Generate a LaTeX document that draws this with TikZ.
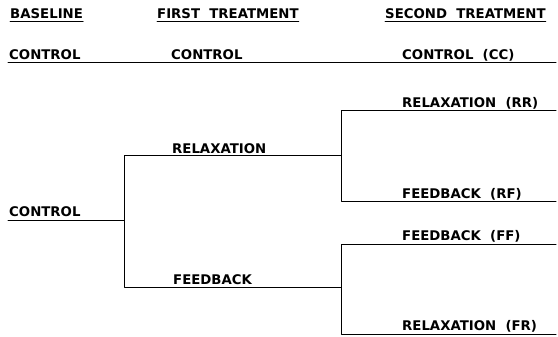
\documentclass[tikz,border=0pt]{standalone}
\usepackage{fontspec}
\setmainfont{DejaVu Sans}[WordSpace=2]
\begin{document}
\begin{tikzpicture}[x=1pt,y=1pt,line cap=round,line join=round,
		lbl/.style={inner sep=0pt,anchor=base west,font=\fontsize{13.3}{15}\selectfont\bfseries},
		rule/.style={line width=1pt}]
	\useasboundingbox (0,0) rectangle (558,337);
	% column heads
	\node[lbl] (hbase) at (10,318.5) {BASELINE};
	\node[lbl] (hfirst) at (157,318.5) {FIRST TREATMENT};
	\node[lbl] (hsecond) at (385,318.5) {SECOND TREATMENT};
	\foreach \h in {hbase,hfirst,hsecond}
		\draw[line width=0.8pt] ([yshift=-2.5pt]\h.south west) -- ([yshift=-2.5pt]\h.south east);
	% control row
	\coordinate (c0) at (8,274);
	\coordinate (c1) at (556,274);
	\node[lbl] (ctl0) at (9,277) {CONTROL};
	\node[lbl] (ctl1) at (171,277) {CONTROL};
	\node[lbl] (ctl2) at (402,277) {CONTROL (CC)};
	\draw[rule] (c0) -- (c1);
	% tree
	\coordinate (b0) at (8,116);
	\coordinate (b1) at (124,116);
	\coordinate (r1) at (124,181);
	\coordinate (f1) at (124,49);
	\coordinate (r2) at (341,181);
	\coordinate (f2) at (341,49);
	\coordinate (rr0) at (341,226);
	\coordinate (rr1) at (556,226);
	\coordinate (rf0) at (341,135);
	\coordinate (rf1) at (556,135);
	\coordinate (ff0) at (341,92);
	\coordinate (ff1) at (556,92);
	\coordinate (fr0) at (341,2);
	\coordinate (fr1) at (556,2);
	\node[lbl] (base) at (9,120) {CONTROL};
	\node[lbl] (rel) at (172,183) {RELAXATION};
	\node[lbl] (fb) at (173,52) {FEEDBACK};
	\node[lbl] (rr) at (402,229) {RELAXATION (RR)};
	\node[lbl] (rf) at (402,138) {FEEDBACK (RF)};
	\node[lbl] (ff) at (402,96) {FEEDBACK (FF)};
	\node[lbl] (fr) at (402,6) {RELAXATION (FR)};
	\draw[rule] (b0) -- (b1);
	\draw[rule] (r2) -- (r1) -- (f1) -- (f2);
	\draw[rule] (rr1) -- (rr0) -- (rf0) -- (rf1);
	\draw[rule] (ff1) -- (ff0) -- (fr0) -- (fr1);
\end{tikzpicture}
\end{document}
